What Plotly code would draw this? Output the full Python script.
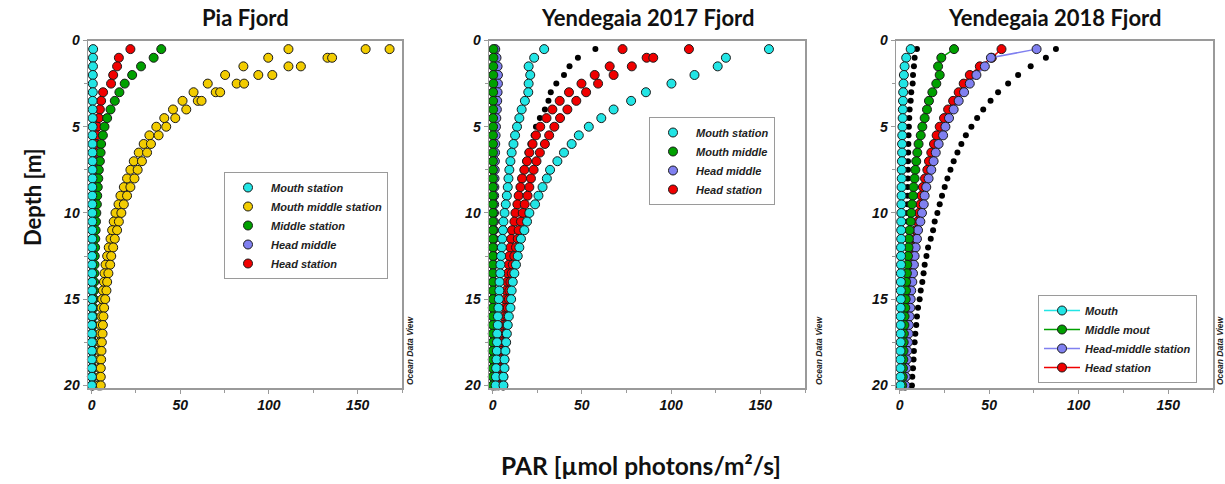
import plotly.graph_objects as go

# ---------------- data ----------------
depth = [0.5, 1.0, 1.5, 2.0, 2.5, 3.0, 3.5, 4.0, 4.5, 5.0,
         5.5, 6.0, 6.5, 7.0, 7.5, 8.0, 8.5, 9.0, 9.5, 10.0,
         10.5, 11.0, 11.5, 12.0, 12.5, 13.0, 13.5, 14.0, 14.5, 15.0,
         15.5, 16.0, 16.5, 17.0, 17.5, 18.0, 18.5, 19.0, 19.5, 20.0]

# Pia Fjord
pia_mouth = [0.9, 0.8, 0.8, 0.7, 0.7, 0.7, 0.6, 0.6, 0.6, 0.6,
             0.5, 0.5, 0.5, 0.5, 0.5, 0.5, 0.4, 0.4, 0.4, 0.4,
             0.4, 0.4, 0.4, 0.3, 0.3, 0.3, 0.3, 0.3, 0.3, 0.3,
             0.3, 0.3, 0.2, 0.2, 0.2, 0.2, 0.2, 0.2, 0.2, 0.2]
pia_mouth_mid_a = [111.0, 99.6, 85.6, 75.3, 65.5, 57.5, 51.3, 45.9, 41.0, 36.5,
                   32.6, 29.4, 26.6, 23.8, 21.9, 20.0, 18.2, 16.3, 15.2, 13.5,
                   12.5, 11.6, 10.7, 9.7, 8.8, 7.9, 7.3, 7.0, 6.4, 6.0,
                   5.6, 5.5, 5.1, 4.7, 4.7, 4.5, 4.5, 4.5, 4.5, 4.0]
pia_mouth_mid_b = [154.5, 133.0, 111.0, 94.0, 81.8, 70.0, 59.9, 53.4, 47.2, 42.1,
                   37.8, 33.5, 31.3, 28.4, 26.0, 24.2, 21.9, 20.0, 18.2, 16.8,
                   15.4, 14.4, 13.1, 12.2, 11.1, 10.5, 9.5, 8.8, 8.4, 7.7,
                   7.1, 6.7, 6.4, 6.2, 5.8, 5.6, 5.4, 5.2, 5.2, 5.2]
pia_mouth_mid_c = [168.0, 135.6, 118.0, 101.9, 86.0, 72.5, 62.0]
pia_middle = [39.3, 35.0, 27.9, 22.9, 18.7, 15.7, 13.1, 10.7, 8.8, 7.3,
              6.4, 5.4, 5.1, 4.7, 4.1, 3.8, 3.5, 3.2, 3.0, 2.7,
              2.5, 2.3, 2.1, 2.0, 1.8, 1.7, 1.6, 1.5, 1.4, 1.3,
              1.2, 1.1, 1.0, 1.0, 0.9, 0.9, 0.8, 0.8, 0.7, 0.7]
pia_head = [21.9, 15.4, 14.4, 12.2, 11.0, 6.5, 5.4, 4.7, 4.1, 3.2,
            2.8, 2.2, 1.9, 1.6, 1.4, 1.2, 1.1, 1.0, 0.9, 0.8,
            0.7, 0.7, 0.6, 0.6, 0.5, 0.5, 0.5, 0.4, 0.4, 0.4,
            0.4, 0.3, 0.3, 0.3, 0.3, 0.3, 0.3, 0.2, 0.2, 0.2]

# Yendegaia 2017
y17_mouth_a = [28.9, 23.3, 20.2, 21.1, 20.2, 20.0, 18.1, 16.3, 15.0, 13.7,
               12.6, 11.7, 10.7, 10.0, 9.4, 8.9, 8.5, 8.0, 7.4, 6.7,
               6.1, 5.8, 5.4, 5.2, 4.8, 4.4, 4.3, 3.9, 3.8, 3.5,
               3.3, 3.0, 2.9, 2.6, 2.5, 2.4, 2.2, 2.0, 1.9, 1.7]
y17_mouth_b = [154.8, 130.7, 126.1, 113.1, 100.2, 85.9, 77.6, 67.8, 60.9, 53.9,
               48.3, 44.3, 40.0, 36.3, 32.2, 30.4, 28.0, 25.7, 23.8, 20.6,
               19.3, 17.8, 15.9, 15.0, 14.1, 13.1, 12.2, 11.3, 10.7, 10.4,
               10.0, 9.1, 8.5, 8.0, 7.6, 7.2, 6.7, 6.7, 6.1, 6.1]
y17_mouth_mid = [0.5, 0.5, 0.4, 0.4, 0.4, 0.3, 0.3, 0.3, 0.3, 0.3,
                 0.2, 0.2, 0.2, 0.2, 0.2, 0.2, 0.2, 0.2, 0.2, 0.2,
                 0.2, 0.2, 0.2, 0.2, 0.2, 0.2, 0.2, 0.2, 0.2, 0.2,
                 0.1, 0.1, 0.1, 0.1, 0.1, 0.1, 0.1, 0.1, 0.1, 0.1]
y17_head_mid = [1.5, 2.2, 2.8, 3.0, 3.0, 2.8, 2.6, 2.4, 2.1, 1.9,
                1.7, 1.5, 1.4, 1.3, 1.2, 1.1, 1.0, 0.9, 0.9, 0.8,
                0.8, 0.7, 0.7, 0.6, 0.6, 0.6, 0.5, 0.5, 0.5, 0.5,
                0.4, 0.4, 0.4, 0.4, 0.4, 0.3, 0.3, 0.3, 0.3, 0.3]
y17_head_a = [72.8, 86.3, 65.6, 57.2, 49.8, 42.8, 37.6, 33.5, 30.2, 26.7,
              24.3, 22.4, 20.6, 19.3, 17.8, 16.5, 15.6, 14.6, 13.9, 12.8,
              12.2, 10.9, 10.4, 10.0, 9.4, 9.1, 8.5, 8.0, 7.6, 7.2,
              6.7, 6.3, 5.9, 5.5, 5.1, 4.7, 4.3, 3.9, 3.5, 3.2]
y17_head_b = [110.0, 90.0, 78.0, 67.8, 59.1, 52.4, 46.9, 41.9, 37.8, 34.6,
              31.7, 29.3, 26.5, 24.6, 23.0, 21.5, 20.6, 19.6, 18.0, 16.9,
              15.9, 14.6, 14.1, 13.1, 12.2, 11.3, 10.7, 10.0, 9.4, 9.1,
              8.5, 8.2, 7.8, 7.5, 7.2, 6.9, 6.6, 6.3, 6.0, 5.8]
y17_extra = [57.6, 47.8, 43.1, 40.0, 35.7, 32.6, 31.3, 29.3, 26.5, 24.3,
             23.0, 21.2, 19.6, 18.3, 16.9, 15.8, 14.9, 14.0, 13.2, 12.2,
             11.6, 10.5, 10.0, 9.6, 9.0, 8.6, 8.0, 7.5, 7.1, 6.7,
             6.2, 5.8, 5.4, 5.0, 4.6, 4.2, 3.8, 3.4, 3.0, 2.7]

# Yendegaia 2018
y18_mouth = [6.2, 3.7, 2.8, 2.4, 2.2, 2.0, 1.9, 1.8, 1.7, 1.6,
             1.5, 1.4, 1.4, 1.3, 1.2, 1.2, 1.1, 1.1, 1.0, 1.0,
             0.9, 0.9, 0.9, 0.8, 0.8, 0.8, 0.7, 0.7, 0.7, 0.7,
             0.6, 0.6, 0.6, 0.6, 0.6, 0.5, 0.5, 0.5, 0.5, 0.5]
y18_middle = [30.4, 23.3, 21.5, 22.4, 20.5, 18.3, 16.4, 15.3, 14.0, 12.7,
              11.8, 10.6, 9.9, 9.3, 8.8, 8.4, 7.8, 7.5, 6.9, 6.5,
              6.2, 5.6, 5.2, 5.0, 4.7, 4.3, 4.1, 3.7, 3.6, 3.4,
              3.2, 2.8, 2.7, 2.4, 2.3, 2.2, 2.1, 1.9, 1.8, 1.5]
y18_head_mid = [76.5, 51.0, 47.6, 42.9, 39.2, 36.0, 33.0, 30.2, 27.6, 25.6,
                24.3, 21.8, 20.2, 19.0, 17.7, 16.2, 14.9, 14.0, 13.5, 12.5,
                11.6, 10.3, 9.7, 9.0, 8.4, 8.0, 7.5, 7.1, 6.5, 6.2,
                6.0, 5.6, 5.2, 5.0, 4.7, 4.3, 4.1, 3.7, 3.4, 3.2]
y18_head = [56.9, 51.5, 44.8, 39.2, 35.8, 33.0, 29.9, 27.1, 24.8, 22.4,
            20.7, 19.2, 17.7, 16.4, 15.5, 14.2, 13.0, 12.2, 11.6, 10.8,
            10.0, 9.2, 8.6, 8.0, 7.5, 7.1, 6.7, 6.3, 5.9, 5.6,
            5.3, 5.0, 4.7, 4.4, 4.2, 3.9, 3.7, 3.4, 3.2, 3.0]
y18_extra_a = [9.7, 8.4, 8.0, 7.5, 7.3, 6.5, 6.2, 5.6, 5.4, 5.2,
               5.0, 4.9, 4.8, 4.7, 4.7, 4.6, 4.5, 4.5, 4.4, 4.3,
               4.3, 4.2, 4.1, 4.0, 4.0, 3.9, 3.9, 3.8, 3.8, 3.7,
               3.7, 3.6, 3.6, 3.5, 3.5, 3.5, 3.4, 3.4, 3.3, 3.3]
y18_extra_b = [87.3, 81.7, 73.2, 66.2, 60.6, 55.0, 50.8, 46.7, 43.3, 40.1,
               37.0, 34.5, 32.3, 30.2, 28.4, 26.7, 25.2, 23.7, 22.4, 21.1,
               19.6, 18.7, 17.4, 15.9, 15.0, 14.0, 13.4, 12.7, 11.8, 11.2,
               10.3, 9.7, 9.3, 8.8, 8.4, 8.0, 7.8, 7.5, 7.1, 6.9]

titles = ["Pia Fjord", "Yendegaia 2017 Fjord", "Yendegaia 2018 Fjord"]
x_ticks = [0, 50, 100, 150]
y_ticks = [0, 5, 10, 15, 20]

# ---------------- style ----------------
CYAN = "#22E5E5"
YELLOW = "#F2CC00"
GREEN = "#00A000"
PURPLE = "#8080F0"
RED = "#F00000"
OUTLINE = dict(color="#1a1a1a", width=1)
MS = 9

W, H = 1225, 484
fig = go.Figure()


def pts(name, xs, ys, color, xa, ya, lg, rank, show=True, mode="markers", size=MS, outline=True):
    fig.add_trace(go.Scatter(
        x=xs, y=ys, mode=mode, name=name, xaxis=xa, yaxis=ya, legend=lg,
        legendrank=rank, showlegend=show, cliponaxis=False,
        marker=dict(color=color, size=size, line=OUTLINE if outline else dict(width=0)),
        line=dict(color=color, width=1.5),
    ))


# Panel 1 (Pia)
pts("Head middle", [None], [None], PURPLE, "x", "y", "legend", 4)
pts("Head station", pia_head, depth, RED, "x", "y", "legend", 5)
pts("Middle station", pia_middle, depth, GREEN, "x", "y", "legend", 3)
pts("Mouth middle station",
    pia_mouth_mid_a + pia_mouth_mid_b + pia_mouth_mid_c,
    depth + depth + depth[:len(pia_mouth_mid_c)], YELLOW, "x", "y", "legend", 2)
pts("Mouth station", pia_mouth, depth, CYAN, "x", "y", "legend", 1)

# Panel 2 (Yendegaia 2017)
pts("extra", y17_extra, depth, "#000000", "x2", "y2", "legend2", 10, show=False, size=6, outline=False)
pts("Head middle", y17_head_mid, depth, PURPLE, "x2", "y2", "legend2", 3)
pts("Mouth middle", y17_mouth_mid, depth, GREEN, "x2", "y2", "legend2", 2)
pts("Head station", y17_head_a + y17_head_b, depth + depth, RED, "x2", "y2", "legend2", 4)
pts("Mouth station", y17_mouth_a + y17_mouth_b, depth + depth, CYAN, "x2", "y2", "legend2", 1)

# Panel 3 (Yendegaia 2018)
pts("extra a", y18_extra_a, depth, "#000000", "x3", "y3", "legend3", 10, show=False, size=6, outline=False)
pts("extra b", y18_extra_b, depth, "#000000", "x3", "y3", "legend3", 11, show=False, size=6, outline=False)
pts("Head station", y18_head, depth, RED, "x3", "y3", "legend3", 4, mode="lines+markers")
pts("Head-middle station", y18_head_mid, depth, PURPLE, "x3", "y3", "legend3", 3, mode="lines+markers")
pts("Middle mout", y18_middle, depth, GREEN, "x3", "y3", "legend3", 2, mode="lines+markers")
pts("Mouth", y18_mouth, depth, CYAN, "x3", "y3", "legend3", 1, mode="lines+markers")

tickfont = dict(family="Liberation Sans, Arial", size=14, color="#111", weight="bold", style="italic")
GRAY = "#9a9a9a"


def xax(dom):
    return dict(domain=dom, range=[-2, 175], tickvals=x_ticks, ticks="outside", ticklen=4,
                tickcolor=GRAY, showline=True, linecolor=GRAY, linewidth=1.5, mirror=True,
                showgrid=False, zeroline=False, tickfont=tickfont, automargin=False,
                minor=dict(tickvals=[25, 75, 125, 175], ticks="outside", ticklen=3, tickcolor=GRAY))


def yax(anchor):
    return dict(domain=[1 - 388 / H, 1 - 40.5 / H], range=[20.15, 0], tickvals=y_ticks,
                ticks="outside", ticklen=4, tickcolor=GRAY, showline=True, linecolor=GRAY,
                linewidth=1.5, mirror=True, showgrid=False, zeroline=False, tickfont=tickfont,
                anchor=anchor, automargin=False,
                minor=dict(tickvals=[2.5, 7.5, 12.5, 17.5], ticks="outside", ticklen=3, tickcolor=GRAY))


doms = [[88 / W, 402 / W], [489 / W, 805 / W], [896 / W, 1213 / W]]

legfont = dict(family="Liberation Sans, Arial", size=11, color="#222", weight="bold", style="italic")


def leg(x, y):
    return dict(x=x / W, y=1 - y / H, xanchor="left", yanchor="top", bgcolor="white",
                bordercolor=GRAY, borderwidth=1, font=legfont, itemwidth=36,
                tracegroupgap=0)


annotations = []
for i, t in enumerate(titles):
    annotations.append(dict(text=t, x=(doms[i][0] + doms[i][1]) / 2, y=1 - 17 / H,
                            xref="paper", yref="paper", showarrow=False,
                            xanchor="center", yanchor="middle",
                            font=dict(family="Lato", size=22, color="#111", weight="bold")))
for xp in [410, 819, 1220]:
    annotations.append(dict(text="Ocean Data View", x=xp / W, y=1 - 350 / H, xref="paper",
                            yref="paper", showarrow=False, textangle=-90,
                            xanchor="center", yanchor="middle",
                            font=dict(family="Liberation Sans, Arial", size=8.5, color="#222",
                                      weight="bold", style="italic")))
annotations.append(dict(text="Depth [m]", x=33 / W, y=1 - 197 / H, xref="paper", yref="paper",
                        showarrow=False, textangle=-90, xanchor="center", yanchor="middle",
                        font=dict(family="Lato", size=22, color="#111", weight="bold")))
annotations.append(dict(text="PAR [µmol photons/m²/s]", x=641 / W, y=1 - 465 / H, xref="paper",
                        yref="paper", showarrow=False, xanchor="center", yanchor="middle",
                        font=dict(family="Lato", size=24.5, color="#111", weight="bold")))

fig.update_layout(
    width=W, height=H, margin=dict(l=0, r=0, t=0, b=0),
    paper_bgcolor="white", plot_bgcolor="white",
    xaxis=xax(doms[0]), yaxis=yax("x"),
    xaxis2=xax(doms[1]), yaxis2=yax("x2"),
    xaxis3=xax(doms[2]), yaxis3=yax("x3"),
    legend=leg(224, 172), legend2=leg(649, 117), legend3=leg(1038, 295),
    annotations=annotations,
)

fig.write_html("out.html", config={"staticPlot": True, "displayModeBar": False},
               post_script="document.body.style.margin='0px';document.body.style.overflow='hidden';")
